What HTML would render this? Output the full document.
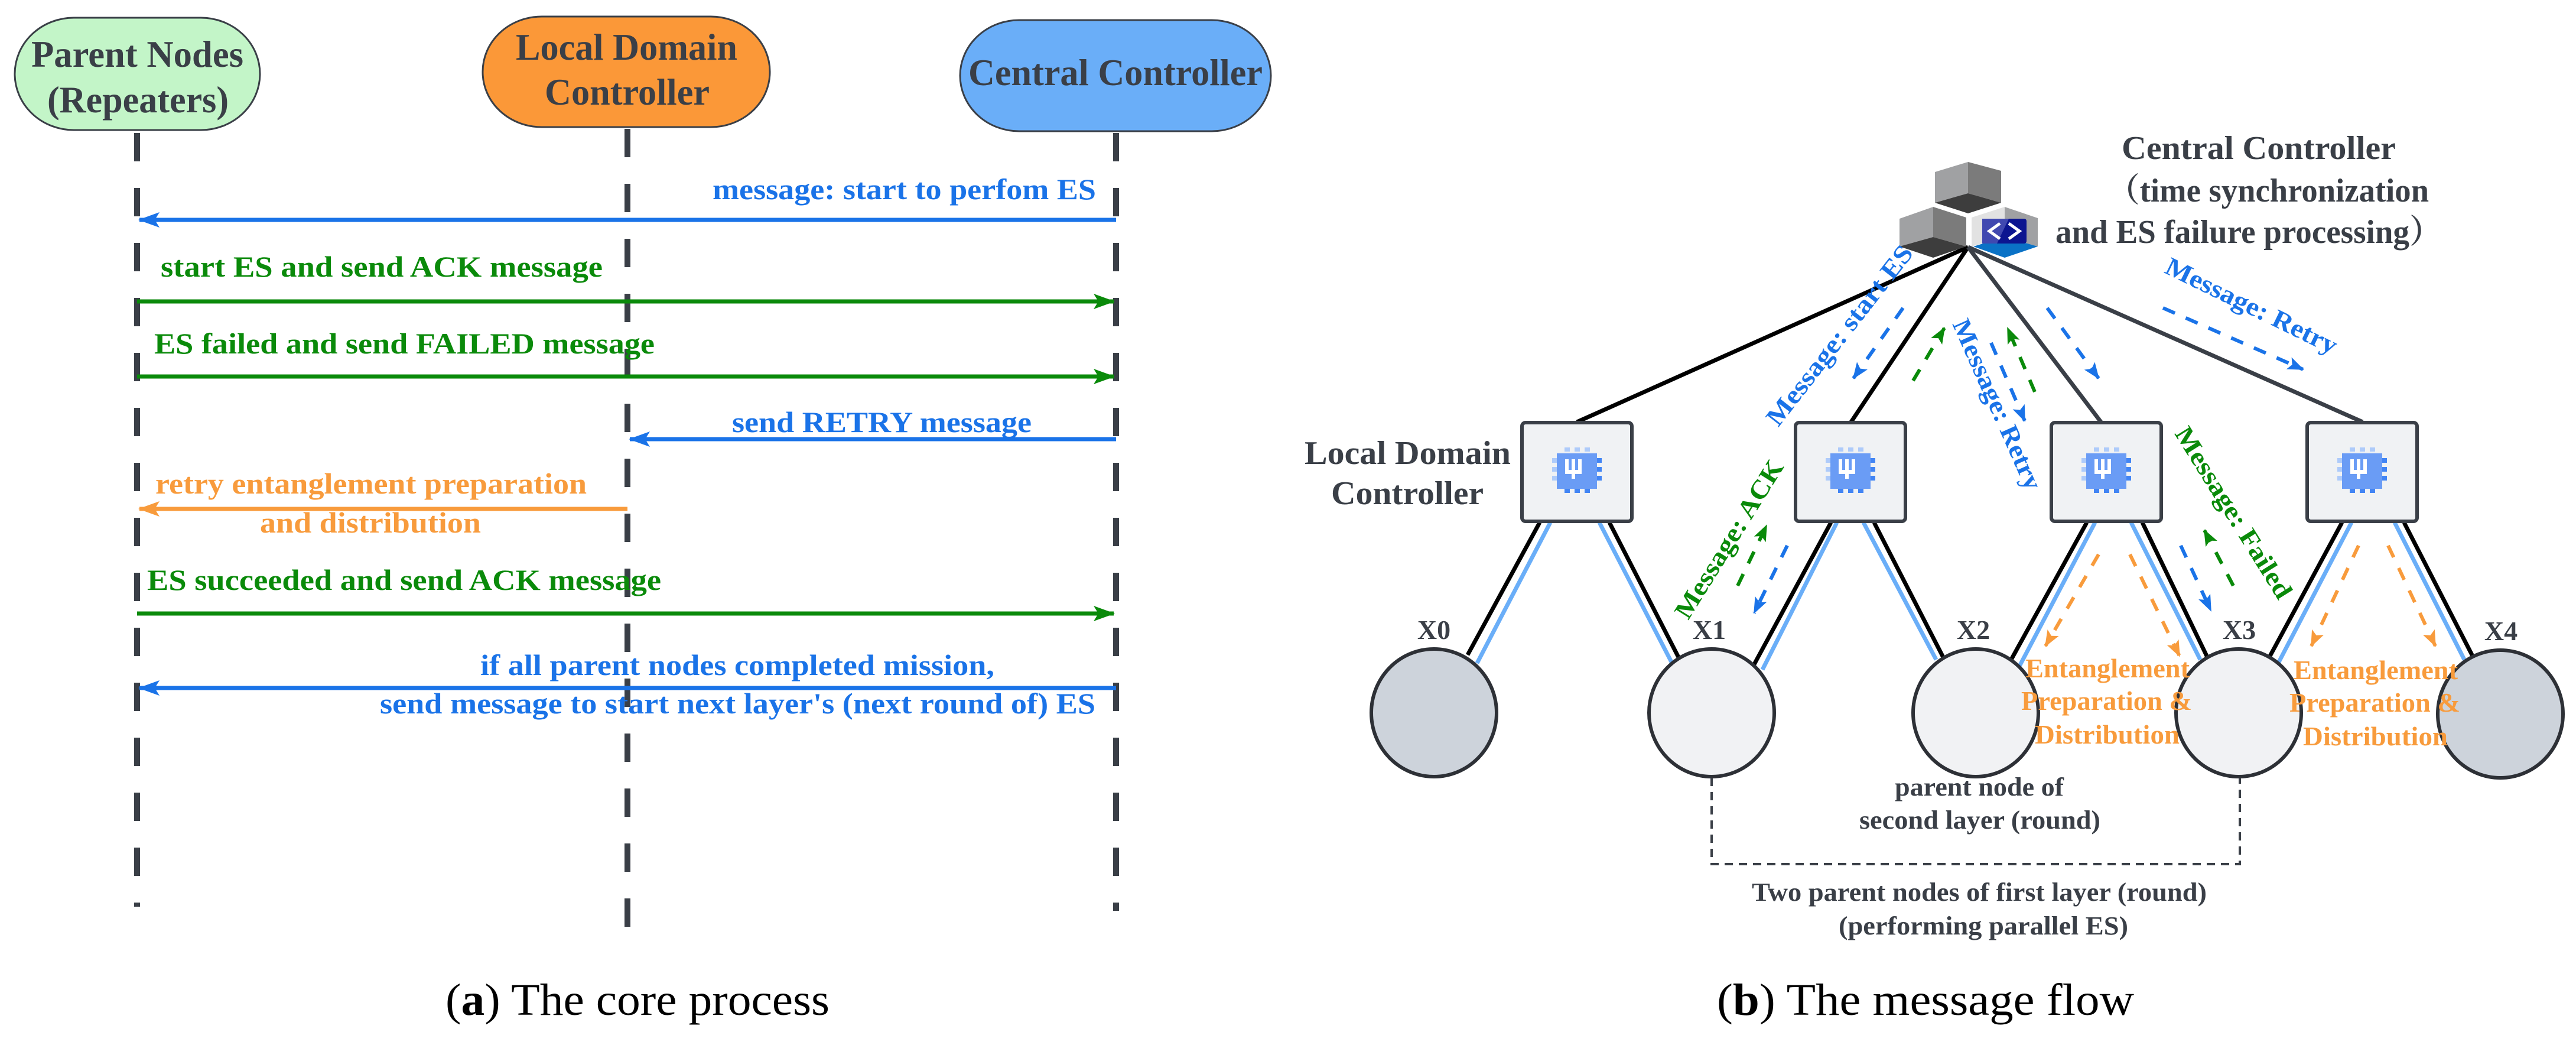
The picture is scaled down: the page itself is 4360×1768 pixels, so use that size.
<!DOCTYPE html>
<html><head><meta charset="utf-8"><style>
html,body{margin:0;padding:0;background:#fff;}
svg{display:block;}
.t{font-family:"Liberation Serif","Noto Serif CJK SC",serif;font-weight:bold;}
.c{font-family:"Liberation Serif",serif;}
</style></head><body>
<svg width="4360" height="1768" viewBox="0 0 4360 1768" xmlns="http://www.w3.org/2000/svg">
<defs>
<marker id="ab" markerUnits="userSpaceOnUse" markerWidth="40" markerHeight="30" refX="34" refY="15" orient="auto"><path d="M0,2 L36,15 L0,28 L8,15 Z" fill="#1a73e8"/></marker>
<marker id="ag" markerUnits="userSpaceOnUse" markerWidth="40" markerHeight="30" refX="34" refY="15" orient="auto"><path d="M0,2 L36,15 L0,28 L8,15 Z" fill="#0a8a0a"/></marker>
<marker id="ao" markerUnits="userSpaceOnUse" markerWidth="40" markerHeight="30" refX="34" refY="15" orient="auto"><path d="M0,2 L36,15 L0,28 L8,15 Z" fill="#f89b3c"/></marker>
<marker id="db" markerUnits="userSpaceOnUse" markerWidth="30" markerHeight="24" refX="26" refY="12" orient="auto"><path d="M0,1 L28,12 L0,23 L6,12 Z" fill="#1a73e8"/></marker>
<marker id="dg" markerUnits="userSpaceOnUse" markerWidth="30" markerHeight="24" refX="26" refY="12" orient="auto"><path d="M0,1 L28,12 L0,23 L6,12 Z" fill="#0a8a0a"/></marker>
<marker id="do" markerUnits="userSpaceOnUse" markerWidth="30" markerHeight="24" refX="26" refY="12" orient="auto"><path d="M0,1 L28,12 L0,23 L6,12 Z" fill="#f89b3c"/></marker>
<g id="chip">
<rect x="-34" y="-30" width="68" height="60" fill="#6a9cf5"/>
<rect x="-21" y="-40" width="9" height="7" fill="#aecbfa"/><rect x="-4" y="-40" width="9" height="7" fill="#aecbfa"/><rect x="13" y="-40" width="9" height="7" fill="#aecbfa"/>
<rect x="-21" y="30" width="9" height="7" fill="#4285f4"/><rect x="-4" y="30" width="9" height="7" fill="#4285f4"/><rect x="13" y="30" width="9" height="7" fill="#4285f4"/>
<rect x="-42" y="-22" width="8" height="8" fill="#aecbfa"/><rect x="-42" y="-7" width="8" height="8" fill="#aecbfa"/><rect x="-42" y="8" width="8" height="8" fill="#aecbfa"/>
<rect x="34" y="-22" width="8" height="8" fill="#4285f4"/><rect x="34" y="-7" width="8" height="8" fill="#4285f4"/><rect x="34" y="8" width="8" height="8" fill="#4285f4"/>
<path d="M-20,-20 h6 v18 h5 v-18 h6 v18 h5 v-18 h6 v25 h-11 v8 h-6 v-8 h-11 Z" fill="#fff"/>
</g>
</defs>

<!-- ============ LEFT PANEL ============ -->
<rect x="25" y="30" width="415" height="190" rx="100" ry="95" fill="#c3f5c8" stroke="#3a3f47" stroke-width="3"/>
<rect x="817" y="28" width="486" height="187" rx="100" ry="93" fill="#fb9838" stroke="#3a3f47" stroke-width="3"/>
<rect x="1625" y="34" width="526" height="188" rx="100" ry="94" fill="#6aaef8" stroke="#3a3f47" stroke-width="3"/>
<g class="t" fill="#3a3f47" font-size="64">
<text x="53" y="113" textLength="359" lengthAdjust="spacingAndGlyphs">Parent Nodes</text>
<text x="80" y="190" textLength="307" lengthAdjust="spacingAndGlyphs">(Repeaters)</text>
<text x="873" y="101" textLength="375" lengthAdjust="spacingAndGlyphs">Local Domain</text>
<text x="922" y="177" textLength="279" lengthAdjust="spacingAndGlyphs">Controller</text>
<text x="1639" y="144" textLength="498" lengthAdjust="spacingAndGlyphs">Central Controller</text>
</g>
<g stroke="#3a3f47" stroke-width="10" stroke-dasharray="48 45">
<line x1="232" y1="225" x2="232" y2="1534"/>
<line x1="1062" y1="218" x2="1062" y2="1571"/>
<line x1="1889" y1="225" x2="1889" y2="1541"/>
</g>
<g stroke-width="7" fill="none">
<line x1="1889" y1="372" x2="236" y2="372" stroke="#1a73e8" marker-end="url(#ab)"/>
<line x1="232" y1="510" x2="1885" y2="510" stroke="#0a8a0a" marker-end="url(#ag)"/>
<line x1="232" y1="637" x2="1885" y2="637" stroke="#0a8a0a" marker-end="url(#ag)"/>
<line x1="1889" y1="743" x2="1066" y2="743" stroke="#1a73e8" marker-end="url(#ab)"/>
<line x1="1062" y1="861" x2="236" y2="861" stroke="#f89b3c" marker-end="url(#ao)"/>
<line x1="232" y1="1038" x2="1885" y2="1038" stroke="#0a8a0a" marker-end="url(#ag)"/>
<line x1="1889" y1="1164" x2="236" y2="1164" stroke="#1a73e8" marker-end="url(#ab)"/>
</g>
<g class="t" font-size="50">
<text x="1206" y="337" fill="#1a73e8" textLength="649" lengthAdjust="spacingAndGlyphs">message: start to perfom ES</text>
<text x="272" y="468" fill="#0a8a0a" textLength="748" lengthAdjust="spacingAndGlyphs">start ES and send ACK message</text>
<text x="261" y="598" fill="#0a8a0a" textLength="847" lengthAdjust="spacingAndGlyphs">ES failed and send FAILED message</text>
<text x="1239" y="731" fill="#1a73e8" textLength="507" lengthAdjust="spacingAndGlyphs">send RETRY message</text>
<text x="263" y="835" fill="#f89b3c" textLength="730" lengthAdjust="spacingAndGlyphs">retry entanglement preparation</text>
<text x="440" y="901" fill="#f89b3c" textLength="374" lengthAdjust="spacingAndGlyphs">and distribution</text>
<text x="249" y="998" fill="#0a8a0a" textLength="870" lengthAdjust="spacingAndGlyphs">ES succeeded and send ACK message</text>
<text x="813" y="1142" fill="#1a73e8" textLength="870" lengthAdjust="spacingAndGlyphs">if all parent nodes completed mission,</text>
<text x="643" y="1207" fill="#1a73e8" textLength="1211" lengthAdjust="spacingAndGlyphs">send message to start next layer's (next round of) ES</text>
</g>
<text class="c" x="754" y="1717" font-size="76" fill="#000" textLength="650" lengthAdjust="spacingAndGlyphs">(<tspan font-weight="bold">a</tspan>) The core process</text>

<!-- ============ RIGHT PANEL ============ -->
<!-- top lines -->
<g stroke-width="7">
<line x1="3331" y1="418" x2="2669" y2="714" stroke="#000"/>
<line x1="3331" y1="418" x2="3133" y2="714" stroke="#000"/>
<line x1="3331" y1="418" x2="3556" y2="714" stroke="#3a3f47"/>
<line x1="3331" y1="418" x2="3999" y2="714" stroke="#3a3f47"/>
</g>
<!-- cubes -->
<g>
<polygon points="3331,274 3275,291 3275,343 3331,327" fill="#a0a1a3"/>
<polygon points="3331,274 3387,289 3387,343 3331,327" fill="#7b7b7b"/>
<polygon points="3275,343 3331,327 3387,343 3331,361" fill="#3d3d3d"/>
<polygon points="3272,350 3215,370 3215,417 3272,401" fill="#a0a1a3"/>
<polygon points="3272,350 3328,368 3328,417 3272,401" fill="#7b7b7b"/>
<polygon points="3215,417 3272,401 3328,417 3272,436" fill="#3d3d3d"/>
<polygon points="3393,350 3337,368 3337,417 3393,401" fill="#e2e2e2"/>
<polygon points="3393,350 3449,369 3449,417 3393,401" fill="#a0a1a3"/>
<polygon points="3340,417 3393,401 3449,417 3393,436" fill="#0a72c6"/>
<rect x="3355" y="370" width="75" height="42" rx="4" fill="#0c1590"/>
<polygon points="3355,370 3400,370 3380,412 3355,412" fill="#4048b0"/>
<path d="M3385,378 L3367,391 L3385,404" stroke="#fff" stroke-width="5" fill="none"/>
<path d="M3400,378 L3418,391 L3400,404" stroke="#fff" stroke-width="5" fill="none"/>
</g>
<g class="t" fill="#3a3f47" font-size="56">
<text x="3591" y="269" textLength="464" lengthAdjust="spacingAndGlyphs">Central Controller</text>
<text x="3567" y="341" textLength="544" lengthAdjust="spacingAndGlyphs">（time synchronization</text>
<text x="3479" y="411" textLength="654" lengthAdjust="spacingAndGlyphs">and ES failure processing）</text>
<text x="2208" y="785" textLength="349" lengthAdjust="spacingAndGlyphs">Local Domain</text>
<text x="2253" y="853" textLength="258" lengthAdjust="spacingAndGlyphs">Controller</text>
</g>
<!-- legs -->
<g stroke-width="7" fill="none">
<line x1="2606" y1="884" x2="2484" y2="1108" stroke="#000"/>
<line x1="2624" y1="884" x2="2500" y2="1122" stroke="#6aaef8"/>
<line x1="2724" y1="884" x2="2843" y2="1116" stroke="#000"/>
<line x1="2707" y1="884" x2="2830" y2="1122" stroke="#6aaef8"/>
<line x1="3099" y1="884" x2="2969" y2="1124" stroke="#000"/>
<line x1="3109" y1="884" x2="2983" y2="1133" stroke="#6aaef8"/>
<line x1="3154" y1="884" x2="3277" y2="1116" stroke="#6aaef8"/>
<line x1="3172" y1="884" x2="3291" y2="1116" stroke="#000"/>
<line x1="3532" y1="884" x2="3404" y2="1116" stroke="#000"/>
<line x1="3546" y1="884" x2="3418" y2="1127" stroke="#6aaef8"/>
<line x1="3607" y1="884" x2="3724" y2="1116" stroke="#6aaef8"/>
<line x1="3626" y1="884" x2="3738" y2="1116" stroke="#000"/>
<line x1="3964" y1="884" x2="3842" y2="1110" stroke="#000"/>
<line x1="3980" y1="884" x2="3856" y2="1122" stroke="#6aaef8"/>
<line x1="4053" y1="884" x2="4171" y2="1116" stroke="#6aaef8"/>
<line x1="4069" y1="884" x2="4185" y2="1110" stroke="#000"/>
</g>
<!-- boxes -->
<g fill="#f0f2f4" stroke="#3a3f47" stroke-width="6">
<rect x="2576" y="715" width="186" height="167" rx="6"/>
<rect x="3039" y="715" width="186" height="167" rx="6"/>
<rect x="3472" y="715" width="186" height="167" rx="6"/>
<rect x="3905" y="715" width="186" height="167" rx="6"/>
</g>
<use href="#chip" x="2669" y="797"/>
<use href="#chip" x="3132" y="797"/>
<use href="#chip" x="3565" y="797"/>
<use href="#chip" x="3998" y="797"/>
<!-- circles -->
<g stroke="#2d3036" stroke-width="6">
<ellipse cx="2427" cy="1206" rx="106" ry="108" fill="#cdd3db"/>
<ellipse cx="2897" cy="1206" rx="106" ry="108" fill="#f1f2f4"/>
<ellipse cx="3344" cy="1206" rx="106" ry="108" fill="#f1f2f4"/>
<ellipse cx="3789" cy="1206" rx="106" ry="108" fill="#f1f2f4"/>
<ellipse cx="4232" cy="1208" rx="106" ry="108" fill="#cdd3db"/>
</g>
<g class="t" fill="#3a3f47" font-size="46" text-anchor="middle">
<text x="2427" y="1081">X0</text>
<text x="2893" y="1081">X1</text>
<text x="3340" y="1081">X2</text>
<text x="3790" y="1081">X3</text>
<text x="4233" y="1083">X4</text>
</g>
<!-- dashed messages -->
<g stroke-width="6" stroke-dasharray="22 20" fill="none">
<line x1="3221" y1="521" x2="3137" y2="640" stroke="#1a73e8" marker-end="url(#db)"/>
<line x1="3238" y1="644" x2="3291" y2="555" stroke="#0a8a0a" marker-end="url(#dg)"/>
<line x1="3370" y1="580" x2="3427" y2="712" stroke="#1a73e8" marker-end="url(#db)"/>
<line x1="3444" y1="663" x2="3398" y2="555" stroke="#0a8a0a" marker-end="url(#dg)"/>
<line x1="3465" y1="521" x2="3552" y2="640" stroke="#1a73e8" marker-end="url(#db)"/>
<line x1="3661" y1="521" x2="3898" y2="625" stroke="#1a73e8" marker-end="url(#db)"/>
<line x1="2941" y1="991" x2="2990" y2="889" stroke="#0a8a0a" marker-end="url(#dg)"/>
<line x1="3025" y1="923" x2="2969" y2="1037" stroke="#1a73e8" marker-end="url(#db)"/>
<line x1="3691" y1="923" x2="3742" y2="1033" stroke="#1a73e8" marker-end="url(#db)"/>
<line x1="3780" y1="991" x2="3731" y2="897" stroke="#0a8a0a" marker-end="url(#dg)"/>
<line x1="3552" y1="938" x2="3462" y2="1093" stroke="#f89b3c" marker-end="url(#do)"/>
<line x1="3605" y1="938" x2="3689" y2="1110" stroke="#f89b3c" marker-end="url(#do)"/>
<line x1="3992" y1="923" x2="3912" y2="1093" stroke="#f89b3c" marker-end="url(#do)"/>
<line x1="4042" y1="923" x2="4122" y2="1093" stroke="#f89b3c" marker-end="url(#do)"/>
</g>
<!-- rotated labels -->
<g class="t" font-size="44" text-anchor="middle">
<text transform="translate(3113,567) rotate(-52)" y="15" fill="#1a73e8" textLength="374" lengthAdjust="spacingAndGlyphs">Message: start  ES</text>
<text transform="translate(3381,684) rotate(66)" y="15" fill="#1a73e8" textLength="311" lengthAdjust="spacingAndGlyphs">Message: Retry</text>
<text transform="translate(3811,517) rotate(26)" y="15" fill="#1a73e8" textLength="318" lengthAdjust="spacingAndGlyphs">Message: Retry</text>
<text transform="translate(2926,912) rotate(-58)" y="15" fill="#0a8a0a" textLength="307" lengthAdjust="spacingAndGlyphs">Message: ACK</text>
<text transform="translate(3781,867) rotate(58)" y="15" fill="#0a8a0a" textLength="334" lengthAdjust="spacingAndGlyphs">Message: Failed</text>
</g>
<!-- orange labels -->
<g class="t" fill="#f89b3c" font-size="46">
<text x="3428" y="1146" textLength="278" lengthAdjust="spacingAndGlyphs">Entanglement</text>
<text x="3421" y="1201" textLength="289" lengthAdjust="spacingAndGlyphs">Preparation &amp;</text>
<text x="3444" y="1258" textLength="245" lengthAdjust="spacingAndGlyphs">Distribution</text>
<text x="3882" y="1149" textLength="278" lengthAdjust="spacingAndGlyphs">Entanglement</text>
<text x="3875" y="1204" textLength="289" lengthAdjust="spacingAndGlyphs">Preparation &amp;</text>
<text x="3898" y="1261" textLength="245" lengthAdjust="spacingAndGlyphs">Distribution</text>
</g>
<!-- bracket -->
<path d="M2897,1316 V1462 H3791 V1316" fill="none" stroke="#3a3f47" stroke-width="4" stroke-dasharray="14 10"/>
<g class="t" fill="#3a3f47" font-size="44">
<text x="3207" y="1346" textLength="286" lengthAdjust="spacingAndGlyphs">parent node of</text>
<text x="3147" y="1402" textLength="408" lengthAdjust="spacingAndGlyphs">second layer (round)</text>
<text x="2965" y="1524" textLength="770" lengthAdjust="spacingAndGlyphs">Two parent nodes of first layer (round)</text>
<text x="3112" y="1581" textLength="490" lengthAdjust="spacingAndGlyphs">(performing parallel ES)</text>
</g>
<text class="c" x="2906" y="1717" font-size="76" fill="#000" textLength="706" lengthAdjust="spacingAndGlyphs">(<tspan font-weight="bold">b</tspan>) The message flow</text>
</svg>
</body></html>
